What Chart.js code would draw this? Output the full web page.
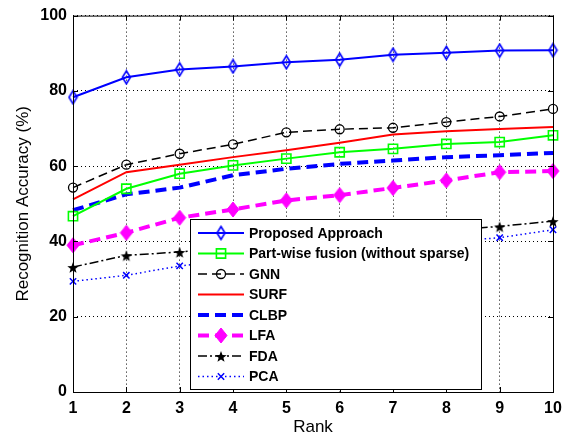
<!DOCTYPE html>
<html>
<head>
<meta charset="utf-8">
<script src="https://cdn.jsdelivr.net/npm/chart.js@4.4.0/dist/chart.umd.min.js"></script>
<style>
  html, body { margin: 0; padding: 0; background: #fff; }
  #wrap { width: 566px; height: 435px; }
</style>
</head>
<body>
<div id="wrap"><canvas id="chart" width="566" height="435"></canvas></div>
<script>
const ranks = ['1', '2', '3', '4', '5', '6', '7', '8', '9', '10'];
const yTicks = [0, 20, 40, 60, 80, 100];

const proposed = [78.3, 83.6, 85.7, 86.5, 87.6, 88.3, 89.6, 90.1, 90.7, 90.8];
const partwise = [46.7, 54.0, 58.0, 60.2, 62.0, 63.7, 64.6, 65.9, 66.4, 68.2];
const gnn = [54.3, 60.4, 63.3, 65.8, 69.0, 69.8, 70.2, 71.7, 73.2, 75.2];
const surf = [51.2, 58.4, 60.4, 62.4, 64.2, 66.2, 68.4, 69.3, 69.9, 70.4];
const clbp = [48.3, 52.5, 54.3, 57.6, 59.3, 60.6, 61.5, 62.4, 62.9, 63.5];
const lfa = [39.0, 42.3, 46.3, 48.5, 50.9, 52.3, 54.2, 56.2, 58.4, 58.7];
const fda = [33.2, 36.3, 37.2, 38.5, 39.6, 40.7, 41.8, 42.9, 44.0, 45.4];
const pca = [29.4, 31.0, 33.5, 35.0, 36.4, 37.6, 38.7, 39.9, 41.0, 43.1];

const FONT = '"Liberation Sans", Arial, Helvetica, sans-serif';

// little canvases for markers chart.js doesn't have
function makeDiamond(w, h, stroke, fill, lw) {
    const c = document.createElement('canvas');
    c.width = w + lw * 2;
    c.height = h + lw * 2;
    const g = c.getContext('2d');
    const cx = c.width / 2, cy = c.height / 2;
    g.beginPath();
    g.moveTo(cx, cy - h / 2);
    g.lineTo(cx + w / 2, cy);
    g.lineTo(cx, cy + h / 2);
    g.lineTo(cx - w / 2, cy);
    g.closePath();
    if (fill) { g.fillStyle = fill; g.fill(); }
    g.lineWidth = lw;
    g.strokeStyle = stroke;
    g.stroke();
    return c;
}

function makeStar(r, color) {
    const c = document.createElement('canvas');
    c.width = r * 2 + 2;
    c.height = r * 2 + 2;
    const g = c.getContext('2d');
    const cx = c.width / 2, cy = c.height / 2 + 1;
    g.beginPath();
    for (let i = 0; i < 10; i++) {
        const rr = i % 2 === 0 ? r : r * 0.42;
        const a = -Math.PI / 2 + i * Math.PI / 5;
        const px = cx + rr * Math.cos(a), py = cy + rr * Math.sin(a);
        if (i === 0) g.moveTo(px, py); else g.lineTo(px, py);
    }
    g.closePath();
    g.fillStyle = color;
    g.fill();
    return c;
}

const diamondBlue = makeDiamond(8, 13, '#0000ff', null, 1.6);
const diamondMagenta = makeDiamond(12, 15, '#ff00ff', '#ff00ff', 1);
const starBlack = makeStar(6, '#000');

const datasets = [
    { label: 'Proposed Approach', data: proposed, borderColor: '#0000ff', borderWidth: 2,
      pointStyle: diamondBlue, borderDash: [] },
    { label: 'Part-wise fusion (without sparse)', data: partwise, borderColor: '#00ff00', borderWidth: 2,
      pointStyle: 'rect', pointRadius: 6.5, pointBorderWidth: 1.6, borderDash: [] },
    { label: 'GNN', data: gnn, borderColor: '#000', borderWidth: 1.5,
      pointStyle: 'circle', pointRadius: 4.5, pointBorderWidth: 1.3, borderDash: [9, 5] },
    { label: 'SURF', data: surf, borderColor: '#ff0000', borderWidth: 2,
      pointStyle: false, borderDash: [] },
    { label: 'CLBP', data: clbp, borderColor: '#0000ff', borderWidth: 4,
      pointStyle: false, borderDash: [11, 6] },
    { label: 'LFA', data: lfa, borderColor: '#ff00ff', borderWidth: 4,
      pointStyle: diamondMagenta, borderDash: [11, 6] },
    { label: 'FDA', data: fda, borderColor: '#000', borderWidth: 1.5,
      pointStyle: starBlack, borderDash: [9, 3, 2, 3] },
    { label: 'PCA', data: pca, borderColor: '#0000ff', borderWidth: 1.5,
      pointStyle: 'crossRot', pointRadius: 4.5, pointBorderWidth: 1.5, borderDash: [1.5, 3] }
];

datasets.forEach(ds => {
    ds.fill = false;
    ds.tension = 0;
    ds.backgroundColor = 'transparent';
    ds.pointBorderColor = ds.borderColor;
    ds.pointBackgroundColor = 'transparent';
    if (ds.pointRadius === undefined) ds.pointRadius = 6;
    if (ds.pointBorderWidth === undefined) ds.pointBorderWidth = ds.borderWidth;
    if (ds.pointStyle === false) ds.pointRadius = 0;
});

function drawMarker(ctx, ds, x, y) {
    const st = ds.pointStyle;
    if (!st) return;
    if (st instanceof HTMLCanvasElement) {
        ctx.drawImage(st, x - st.width / 2, y - st.height / 2);
        return;
    }
    const r = ds.pointRadius;
    ctx.save();
    ctx.setLineDash([]);
    ctx.strokeStyle = ds.borderColor;
    ctx.lineWidth = ds.pointBorderWidth;
    ctx.beginPath();
    if (st === 'circle') {
        ctx.arc(x, y, r, 0, Math.PI * 2);
    } else if (st === 'rect') {
        const s = r * Math.SQRT1_2;
        ctx.rect(x - s, y - s, s * 2, s * 2);
    } else if (st === 'crossRot') {
        const s = r * Math.SQRT1_2;
        ctx.moveTo(x - s, y - s); ctx.lineTo(x + s, y + s);
        ctx.moveTo(x - s, y + s); ctx.lineTo(x + s, y - s);
    }
    ctx.stroke();
    ctx.restore();
}

// frame, inward ticks and the boxed legend inside the plot
const framePlugin = {
    id: 'frame',
    afterDatasetsDraw(chart) {
        const ctx = chart.ctx;
        const a = chart.chartArea;
        const xs = chart.scales.x, ys = chart.scales.y;
        ctx.save();
        ctx.setLineDash([]);
        ctx.strokeStyle = '#000';
        ctx.lineWidth = 1;
        ctx.strokeRect(a.left + 0.5, a.top + 0.5, a.right - a.left, a.bottom - a.top);
        ctx.beginPath();
        for (let i = 0; i < ranks.length; i++) {
            const px = Math.round(xs.getPixelForValue(i)) + 0.5;
            ctx.moveTo(px, a.bottom); ctx.lineTo(px, a.bottom - 5);
            ctx.moveTo(px, a.top); ctx.lineTo(px, a.top + 5);
        }
        yTicks.forEach(v => {
            const py = Math.round(ys.getPixelForValue(v)) + 0.5;
            ctx.moveTo(a.left, py); ctx.lineTo(a.left + 5, py);
            ctx.moveTo(a.right, py); ctx.lineTo(a.right - 5, py);
        });
        ctx.stroke();

        // legend
        const lx = 190, ly = 219, lw = 291, lh = 170;
        ctx.fillStyle = '#fff';
        ctx.fillRect(lx, ly, lw, lh);
        ctx.strokeRect(lx + 0.5, ly + 0.5, lw, lh);
        ctx.font = 'bold 14px ' + FONT;
        ctx.textBaseline = 'middle';
        ctx.textAlign = 'left';
        datasets.forEach((ds, i) => {
            const y = ly + 14 + i * 20.5;
            ctx.save();
            ctx.strokeStyle = ds.borderColor;
            ctx.lineWidth = ds.borderWidth;
            ctx.setLineDash(ds.borderDash);
            ctx.beginPath();
            ctx.moveTo(198, y);
            ctx.lineTo(244, y);
            ctx.stroke();
            ctx.restore();
            drawMarker(ctx, ds, 221, y);
            ctx.fillStyle = '#000';
            ctx.fillText(ds.label, 249, y + 1);
        });
        ctx.restore();
    }
};

new Chart(document.getElementById('chart'), {
    type: 'line',
    data: { labels: ranks, datasets: datasets },
    options: {
        responsive: false,
        animation: false,
        layout: { padding: { top: 15, right: 13, left: 0, bottom: 0 } },
        plugins: { legend: { display: false }, tooltip: { enabled: false } },
        scales: {
            x: {
                offset: false,
                grid: { color: '#000', lineWidth: 1, drawTicks: false },
                border: { display: false, dash: [1, 3] },
                ticks: { color: '#000', font: { family: FONT, size: 16, weight: 'bold' }, padding: 7, maxRotation: 0 },
                title: { display: true, text: 'Rank', color: '#000', font: { family: FONT, size: 17 }, padding: { top: 0, bottom: -3 } },
                afterFit(scale) {
                    scale.height = 43;
                    scale.paddingLeft = 0;
                    scale.paddingRight = 0;
                }
            },
            y: {
                min: 0,
                max: 100,
                grid: { color: '#000', lineWidth: 1, drawTicks: false },
                border: { display: false, dash: [1, 3] },
                ticks: { stepSize: 20, color: '#000', font: { family: FONT, size: 16, weight: 'bold' }, padding: 6 },
                title: { display: true, text: 'Recognition Accuracy (%)', color: '#000', font: { family: FONT, size: 17 }, padding: { top: 13, bottom: 0 } },
                afterFit(scale) { scale.width = 73; }
            }
        }
    },
    plugins: [framePlugin]
});
</script>
</body>
</html>
